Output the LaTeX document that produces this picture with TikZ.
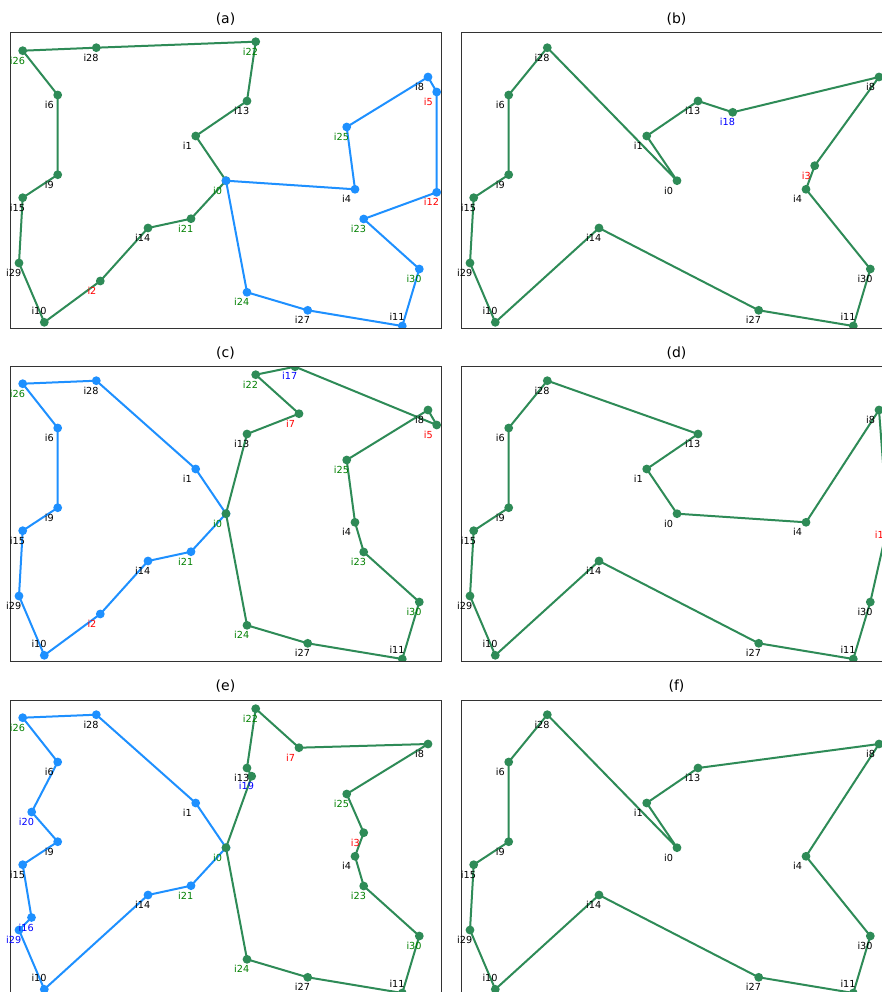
\documentclass[tikz,border=0pt]{standalone}
\usepackage{fontspec}
\setmainfont{DejaVu Sans}
\definecolor{sgreen}{RGB}{46,139,87}
\definecolor{dblue}{RGB}{30,144,255}
\definecolor{lgreen}{RGB}{0,128,0}
\definecolor{lred}{RGB}{255,0,0}
\definecolor{lblue}{RGB}{0,0,255}
\definecolor{lblack}{RGB}{0,0,0}
\newcommand\defcities[1]{%
  \foreach \n/\x/\y in {i0/216/147.7, i1/185.7/103, i2/90.3/248, i3/353.7/132.7,
    i4/345/156.3, i5/426.7/59, i6/47.7/62, i7/289/47.7, i8/418/44, i9/47.7/141.7,
    i10/34.3/289.3, i11/392.3/293, i12/426.7/159.3, i13/237/68, i14/138/195,
    i15/12.7/164.7, i16/21.5/217.5, i17/285/0.7, i18/271.7/79.3, i19/241.7/76.2,
    i20/21.7/112, i21/181/185.7, i22/245.7/8.7, i23/353.7/186, i24/237/259.3,
    i25/336.7/94, i26/12.7/17.7, i27/297.7/277.3, i28/86.3/14.7, i29/9/230,
    i30/409.3/236}{\coordinate (#1\n) at (\x,\y);}}
\newcommand\tour[3]{%
  \draw[tourline,#2] (#1i0) \foreach \n in {#3}{ -- (#1\n)} -- cycle;
  \foreach \n in {i0,#3}{\fill[#2] (#1\n) circle (4.4);}}
\newcommand\labs[2]{%
  \foreach \n/\c/\dy in {#2}{\path (#1\n) ++(-13,\dy) node[lab,text=\c] (#1l\n) {\n};}}
\begin{document}
\begin{tikzpicture}[x=1pt,y=-1pt,
  tourline/.style={line width=2pt,line join=round},
  lab/.style={inner sep=0pt,font=\fontsize{9.7}{11}\selectfont,anchor=base west},
  ttl/.style={inner sep=0pt,font=\fontsize{14}{16}\selectfont},
  frame/.style={draw=black!80,line width=1pt}]
\useasboundingbox (0,0) rectangle (882,992);
\fill[white] (0,0) rectangle (882,992);

% titles
\node[ttl] (ta) at (225.5,19) {(a)};
\node[ttl] (tb) at (676.5,19) {(b)};
\node[ttl] (tc) at (225.5,353) {(c)};
\node[ttl] (td) at (676.5,353) {(d)};
\node[ttl] (te) at (225.5,686) {(e)};
\node[ttl] (tf) at (676.5,686) {(f)};

% (a)
\begin{scope}[shift={(10,33)}]
  \defcities{a-}
  \begin{scope}
    \clip (0,0) rectangle (431,295);
    \tour{a-}{sgreen}{i1,i13,i22,i28,i26,i6,i9,i15,i29,i10,i2,i14,i21}
    \tour{a-}{dblue}{i4,i25,i8,i5,i12,i23,i30,i11,i27,i24}
  \end{scope}
  \draw[frame] (0,0) rectangle (431,295);
  \labs{a-}{i0/lgreen/13.5, i1/lblack/13.5, i2/lred/13.5, i4/lblack/13.5,
    i5/lred/13.5, i6/lblack/13.5, i8/lblack/13.5, i9/lblack/13.5,
    i10/lblack/-7.5, i11/lblack/-6, i12/lred/13.5, i13/lblack/13.5,
    i14/lblack/13.5, i15/lblack/13.5, i21/lgreen/13.5, i22/lgreen/13.5,
    i23/lgreen/13.5, i24/lgreen/13.5, i25/lgreen/13.5, i26/lgreen/13.5,
    i27/lblack/13.5, i28/lblack/13.5, i29/lblack/13.5, i30/lgreen/13.5}
\end{scope}

% (b)
\begin{scope}[shift={(461,33)}]
  \defcities{b-}
  \begin{scope}
    \clip (0,0) rectangle (431,295);
    \tour{b-}{sgreen}{i1,i13,i18,i8,i3,i4,i30,i11,i27,i14,i10,i29,i15,i9,i6,i28}
  \end{scope}
  \draw[frame] (0,0) rectangle (431,295);
  \labs{b-}{i0/lblack/13.5, i1/lblack/13.5, i13/lblack/13.5, i18/lblue/13.5,
    i8/lblack/13.5, i3/lred/13.5, i4/lblack/13.5, i30/lblack/13.5,
    i11/lblack/-6, i27/lblack/13.5, i14/lblack/13.5, i10/lblack/-7.5,
    i29/lblack/13.5, i15/lblack/13.5, i9/lblack/13.5, i6/lblack/13.5,
    i28/lblack/13.5}
\end{scope}

% (c)
\begin{scope}[shift={(10,366)}]
  \defcities{c-}
  \begin{scope}
    \clip (0,0) rectangle (431,295);
    \tour{c-}{dblue}{i1,i28,i26,i6,i9,i15,i29,i10,i2,i14,i21}
    \tour{c-}{sgreen}{i13,i7,i22,i17,i5,i8,i25,i4,i23,i30,i11,i27,i24}
  \end{scope}
  \draw[frame] (0,0) rectangle (431,295);
  \labs{c-}{i0/lgreen/13.5, i1/lblack/13.5, i2/lred/13.5, i4/lblack/13.5,
    i5/lred/13.5, i6/lblack/13.5, i7/lred/13.5, i8/lblack/13.5, i9/lblack/13.5,
    i10/lblack/-7.5, i11/lblack/-6, i13/lblack/13.5, i14/lblack/13.5,
    i15/lblack/13.5, i17/lblue/13, i21/lgreen/13.5, i22/lgreen/13.5,
    i23/lgreen/13.5, i24/lgreen/13.5, i25/lgreen/13.5, i26/lgreen/13.5,
    i27/lblack/13.5, i28/lblack/13.5, i29/lblack/13.5, i30/lgreen/13.5}
\end{scope}

% (d)
\begin{scope}[shift={(461,366)}]
  \defcities{d-}
  \begin{scope}
    \clip (0,0) rectangle (431,295);
    \tour{d-}{sgreen}{i1,i13,i28,i6,i9,i15,i29,i10,i14,i27,i11,i30,i12,i8,i4}
  \end{scope}
  \draw[frame] (0,0) rectangle (431,295);
  \labs{d-}{i0/lblack/13.5, i1/lblack/13.5, i13/lblack/13.5, i28/lblack/13.5,
    i6/lblack/13.5, i9/lblack/13.5, i15/lblack/13.5, i29/lblack/13.5,
    i10/lblack/-7.5, i14/lblack/13.5, i27/lblack/13.5, i11/lblack/-6,
    i30/lblack/13.5, i12/lred/13.5, i8/lblack/13.5, i4/lblack/13.5}
\end{scope}

% (e)
\begin{scope}[shift={(10,700)}]
  \defcities{e-}
  \begin{scope}
    \clip (0,0) rectangle (431,295);
    \tour{e-}{dblue}{i1,i28,i26,i6,i20,i9,i15,i16,i29,i10,i14,i21}
    \tour{e-}{sgreen}{i19,i13,i22,i7,i8,i25,i3,i4,i23,i30,i11,i27,i24}
  \end{scope}
  \draw[frame] (0,0) rectangle (431,295);
  \labs{e-}{i0/lgreen/13.5, i1/lblack/13.5, i3/lred/13.5, i4/lblack/13.5,
    i6/lblack/13.5, i7/lred/13.5, i8/lblack/13.5, i9/lblack/13.5,
    i10/lblack/-7.5, i11/lblack/-6, i13/lblack/13.2, i14/lblack/13.5,
    i15/lblack/13.5, i16/lblue/13.5, i19/lblue/13.5, i20/lblue/13.5,
    i21/lgreen/13.5, i22/lgreen/13.5, i23/lgreen/13.5, i24/lgreen/13.5,
    i25/lgreen/13.5, i26/lgreen/13.5, i27/lblack/13.5, i28/lblack/13.5,
    i29/lblue/13.5, i30/lgreen/13.5}
\end{scope}

% (f)
\begin{scope}[shift={(461,700)}]
  \defcities{f-}
  \begin{scope}
    \clip (0,0) rectangle (431,295);
    \tour{f-}{sgreen}{i1,i13,i8,i4,i30,i11,i27,i14,i10,i29,i15,i9,i6,i28}
  \end{scope}
  \draw[frame] (0,0) rectangle (431,295);
  \labs{f-}{i0/lblack/13.5, i1/lblack/13.5, i13/lblack/13.5, i8/lblack/13.5,
    i4/lblack/13.5, i30/lblack/13.5, i11/lblack/-6, i27/lblack/13.5,
    i14/lblack/13.5, i10/lblack/-7.5, i29/lblack/13.5, i15/lblack/13.5,
    i9/lblack/13.5, i6/lblack/13.5, i28/lblack/13.5}
\end{scope}
\end{tikzpicture}
\end{document}
